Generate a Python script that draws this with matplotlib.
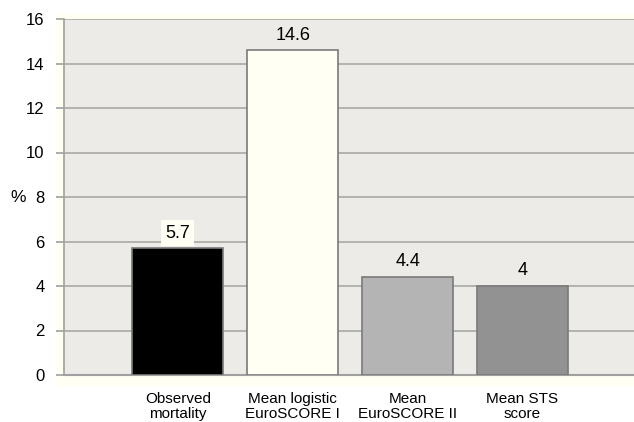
import matplotlib.pyplot as plt
from matplotlib.patches import Rectangle

plt.rcParams['font.family'] = ['Liberation Sans', 'DejaVu Sans']

categories = ['Observed\nmortality', 'Mean logistic\nEuroSCORE I', 'Mean\nEuroSCORE II', 'Mean STS\nscore']
values = [5.7, 14.6, 4.4, 4.0]
value_labels = ['5.7', '14.6', '4.4', '4']
bar_colors = ['#000000', '#fffff3', '#b4b4b4', '#929292']
y_ticks = [0, 2, 4, 6, 8, 10, 12, 14, 16]

fig = plt.figure(figsize=(6.34, 4.22), dpi=100)
fig.patch.set_facecolor('white')

# cream panel behind the plot area
fig.patches.append(Rectangle((55 / 634, 1 - 386 / 422), 1, (386 - 14) / 422,
                             transform=fig.transFigure, facecolor='#fffff3',
                             edgecolor='none', zorder=-5))

ax = fig.add_axes([64 / 634, 1 - 375 / 422, 1 - 64 / 634, (375 - 19) / 422])
ax.set_facecolor('#edebe7')

x = list(range(len(values)))
ax.bar(x, values, width=0.79, color=bar_colors, edgecolor='#7a7a7a', linewidth=1.2, zorder=3)

for xi, v, lab in zip(x, values, value_labels):
    box = None
    if xi == 0:
        box = dict(facecolor='#fffff3', edgecolor='none', pad=3)
    ax.text(xi, v + 0.68, lab, ha='center', va='center', fontsize=13, bbox=box, zorder=4)

ax.set_xlim(-0.99, 3.97)
ax.set_ylim(0, 16)
ax.set_yticks(y_ticks)
ax.yaxis.grid(True, color='#b3b3ad', linewidth=1.4, zorder=1)
ax.set_axisbelow(True)

ax.set_xticks(x)
ax.set_xticklabels(categories, fontsize=11, linespacing=1.15)
ax.tick_params(axis='x', length=0, pad=12)
ax.tick_params(axis='y', length=6, width=1.2, color='#a0a0a0', labelsize=12, pad=8)

for side in ['top', 'right']:
    ax.spines[side].set_visible(False)
ax.spines['left'].set_color('#a0a0a0')
ax.spines['left'].set_linewidth(1.2)
ax.spines['bottom'].set_color('#a0a0a0')
ax.spines['bottom'].set_linewidth(1.5)

ax.set_ylabel('%', rotation=0, fontsize=12.5, va='center')
ax.yaxis.set_label_coords(-0.08, 0.5)

fig.savefig('out.png', dpi=100)
